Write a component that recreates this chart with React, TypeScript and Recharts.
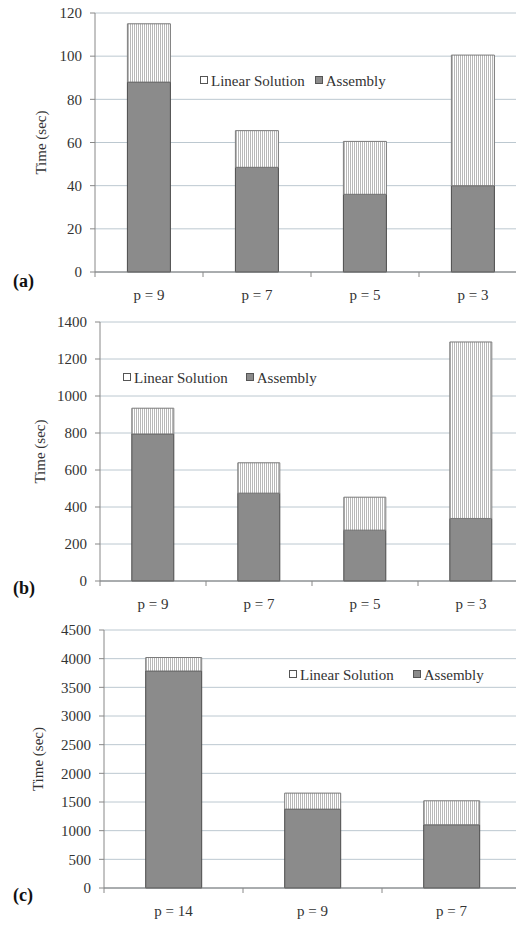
import { Bar, BarChart, CartesianGrid, Legend, XAxis, YAxis } from "recharts";

// (a)
const catsA = ["p = 9", "p = 7", "p = 5", "p = 3"];
const assemblyA = [88, 48.5, 36, 40];
const linearA = [27, 17, 24.5, 60.5];
const ticksA = [0, 20, 40, 60, 80, 100, 120];

// (b)
const catsB = ["p = 9", "p = 7", "p = 5", "p = 3"];
const assemblyB = [795, 475, 275, 338];
const linearB = [139, 164, 178, 954];
const ticksB = [0, 200, 400, 600, 800, 1000, 1200, 1400];

// (c)
const catsC = ["p = 14", "p = 9", "p = 7"];
const assemblyC = [3785, 1376, 1103];
const linearC = [235, 279, 418];
const ticksC = [0, 500, 1000, 1500, 2000, 2500, 3000, 3500, 4000, 4500];

const FONT = '"Liberation Serif", "Times New Roman", serif';
const TEXT = "#333";

const makeRows = (cats: string[], asm: number[], lin: number[]) =>
  cats.map((name, i) => ({ name, assembly: asm[i], linear: lin[i] }));

const catTick = (band: number) => (props: any) => {
  const { x, y, payload } = props;
  return (
    <g>
      <line x1={x - band / 2} x2={x - band / 2} y1={y} y2={y + 5} stroke="#888" />
      <text x={x} y={y + 28} textAnchor="middle" fill={TEXT} fontSize={15} fontFamily={FONT}>
        {payload.value}
      </text>
    </g>
  );
};

const legendContent = (gap: number) => (props: any) => {
  const items = [...(props.payload ?? [])].reverse();
  return (
    <div style={{ display: "flex", alignItems: "center", fontFamily: FONT, fontSize: 15, color: TEXT, whiteSpace: "nowrap", lineHeight: "17px" }}>
      {items.map((it: any, i: number) => (
        <div key={it.value} style={{ display: "flex", alignItems: "center", marginLeft: i ? gap : 0 }}>
          <svg width={8} height={8} style={{ marginTop: -4 }}>
            <rect x={0.5} y={0.5} width={7} height={7} fill={it.value === "Assembly" ? "#8b8b8b" : "#fff"} stroke="#555" />
          </svg>
          <span style={{ marginLeft: 3 }}>{it.value}</span>
        </div>
      ))}
    </div>
  );
};

interface PanelProps {
  id: string;
  letter: string;
  cats: string[];
  assembly: number[];
  linear: number[];
  ticks: number[];
  top: number;
  width: number;
  height: number;
  marginTop: number;
  marginBottom: number;
  axisW: number;
  band: number;
  labelDx: number;
  legendLeft: number;
  legendTop: number;
  legendGap: number;
  letterTop: number;
}

function Panel(p: PanelProps) {
  const rows = makeRows(p.cats, p.assembly, p.linear);
  const max = p.ticks[p.ticks.length - 1];
  return (
    <>
      <div style={{ position: "absolute", left: 0, top: p.top }}>
        <BarChart
          width={p.width}
          height={p.height}
          data={rows}
          barCategoryGap="30%"
          margin={{ top: p.marginTop, right: 13, bottom: p.marginBottom, left: 0 }}
          style={{ fontFamily: FONT }}
        >
          <defs>
            <pattern id={p.id} width={2} height={4} patternUnits="userSpaceOnUse">
              <rect width={2} height={4} fill="#fff" />
              <line x1={0.5} y1={0} x2={0.5} y2={4} stroke="#b8b8b8" strokeWidth={1} />
            </pattern>
          </defs>
          <CartesianGrid vertical={false} stroke="#bcc8d0" />
          <XAxis
            dataKey="name"
            height={30}
            tickSize={0}
            tickMargin={0}
            tickLine={false}
            axisLine={{ stroke: "#777" }}
            tick={catTick(p.band)}
            interval={0}
          />
          <YAxis
            type="number"
            width={p.axisW}
            domain={[0, max]}
            ticks={p.ticks}
            interval={0}
            tickSize={5}
            tickMargin={8}
            axisLine={{ stroke: "#888" }}
            tickLine={{ stroke: "#888" }}
            tick={{ fill: TEXT, fontSize: 15, fontFamily: FONT }}
            label={{ value: "Time (sec)", angle: -90, position: "center", dx: p.labelDx, fill: TEXT, fontSize: 15, fontFamily: FONT }}
          />
          <Legend
            layout="vertical"
            verticalAlign="middle"
            align="center"
            wrapperStyle={{ left: p.legendLeft, top: p.legendTop, width: "auto" }}
            content={legendContent(p.legendGap)}
          />
          <Bar dataKey="assembly" name="Assembly" stackId="s" fill="#8b8b8b" stroke="#4a4a4a" strokeWidth={1} isAnimationActive={false} />
          <Bar dataKey="linear" name="Linear Solution" stackId="s" fill={`url(#${p.id})`} stroke="#7a7a7a" strokeWidth={1} isAnimationActive={false} />
        </BarChart>
      </div>
      <div style={{ position: "absolute", left: 13, top: p.letterTop, fontFamily: FONT, fontWeight: "bold", fontSize: 18, color: "#111", lineHeight: "20px" }}>
        {p.letter}
      </div>
    </>
  );
}

export default function App() {
  return (
    <div style={{ position: "absolute", left: 0, top: 0, width: 516, height: 925, overflow: "hidden", background: "#fff" }}>
      <Panel
        id="stripeA" letter="(a)" cats={catsA} assembly={assemblyA} linear={linearA} ticks={ticksA}
        top={0} width={540} height={310} marginTop={13} marginBottom={8} axisW={95} band={108}
        labelDx={-7} legendLeft={200} legendTop={73} legendGap={10} letterTop={271}
      />
      <Panel
        id="stripeB" letter="(b)" cats={catsB} assembly={assemblyB} linear={linearB} ticks={ticksB}
        top={310} width={537} height={309} marginTop={12} marginBottom={8} axisW={100} band={106}
        labelDx={-10} legendLeft={123} legendTop={60} legendGap={18} letterTop={578}
      />
      <Panel
        id="stripeC" letter="(c)" cats={catsC} assembly={assemblyC} linear={linearC} ticks={ticksC}
        top={610} width={534} height={315} marginTop={20} marginBottom={7} axisW={104} band={139}
        labelDx={-14} legendLeft={289} legendTop={57} legendGap={19} letterTop={885}
      />
    </div>
  );
}
